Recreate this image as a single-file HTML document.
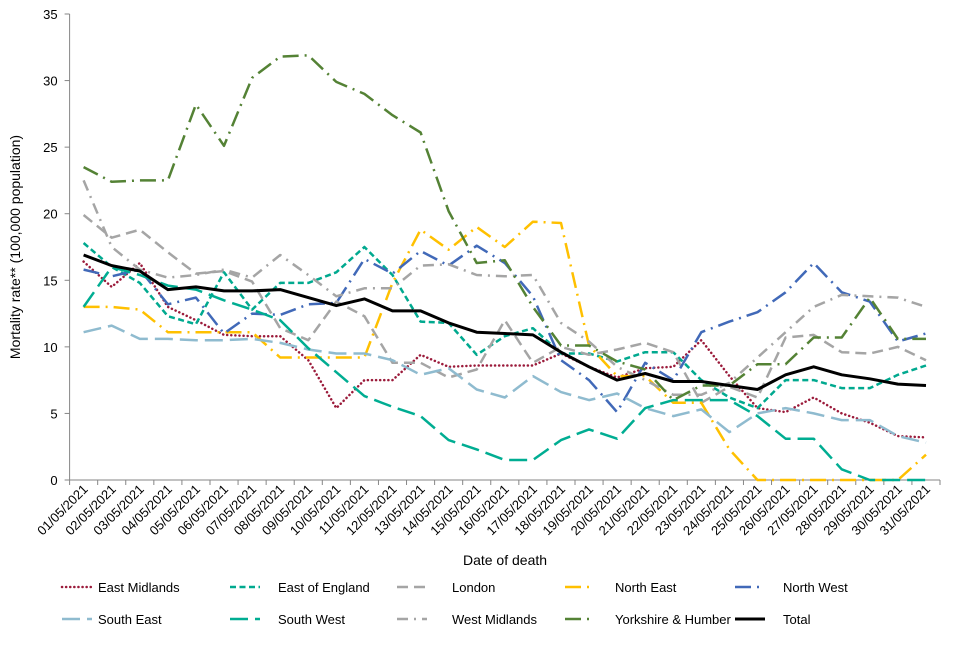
<!DOCTYPE html>
<html><head><meta charset="utf-8"><style>
body{margin:0;background:#fff;font-family:"Liberation Sans",Arial,sans-serif}
svg text{font-family:"Liberation Sans",Arial,sans-serif;fill:#000}
</style></head><body>
<svg id="chart" width="960" height="640" viewBox="0 0 960 640" xmlns="http://www.w3.org/2000/svg">
<g id="axes"></g>
<g id="series"></g>
<g id="legend"></g>
<text x="505" y="565" font-size="14" text-anchor="middle">Date of death</text>
<text transform="translate(20,247) rotate(-90)" font-size="14" text-anchor="middle">Mortality rate** (100,000 population)</text>
</svg>
<script>
const categories = ["01/05/2021","02/05/2021","03/05/2021","04/05/2021","05/05/2021","06/05/2021","07/05/2021","08/05/2021","09/05/2021","10/05/2021","11/05/2021","12/05/2021","13/05/2021","14/05/2021","15/05/2021","16/05/2021","17/05/2021","18/05/2021","19/05/2021","20/05/2021","21/05/2021","22/05/2021","23/05/2021","24/05/2021","25/05/2021","26/05/2021","27/05/2021","28/05/2021","29/05/2021","30/05/2021","31/05/2021"];
const yTicks = [0,5,10,15,20,25,30,35];
const eastMidlands = [16.4,14.5,16.3,13.0,12.0,10.9,10.8,10.8,9.0,5.4,7.5,7.5,9.4,8.5,8.6,8.6,8.6,9.5,8.5,7.7,8.4,8.5,10.5,7.8,5.4,5.1,6.2,5.0,4.3,3.3,3.2];
const eastOfEngland = [17.8,16.0,14.8,12.3,11.7,15.6,12.8,14.8,14.8,15.6,17.5,15.4,11.9,11.8,9.4,10.8,11.4,9.5,9.5,8.9,9.6,9.6,7.5,6.2,5.4,7.5,7.5,6.9,6.9,7.9,8.6];
const london = [19.9,18.2,18.8,17.1,15.5,15.7,14.9,11.4,10.5,13.4,12.3,8.8,8.8,7.7,8.3,12.0,8.8,10.0,9.4,9.8,10.3,9.6,5.8,7.0,6.2,10.7,10.9,9.6,9.5,10.0,9.0];
const northEast = [13.0,13.0,12.8,11.1,11.1,11.1,11.1,9.2,9.2,9.2,9.2,14.8,18.8,17.3,19.0,17.5,19.4,19.3,10.1,7.8,7.8,5.8,5.8,2.3,0,0,0,0,0,0,1.9];
const northWest = [15.8,15.3,15.8,13.2,13.7,11.0,12.5,12.4,13.2,13.3,16.6,15.5,17.2,16.1,17.6,16.3,13.8,9.0,7.5,5.1,8.8,7.5,11.1,11.9,12.6,14.1,16.3,14.1,13.4,10.4,11.0];
const southEast = [11.1,11.6,10.6,10.6,10.5,10.5,10.6,10.3,9.8,9.5,9.5,9.0,7.9,8.4,6.8,6.2,7.8,6.6,6.0,6.5,5.4,4.8,5.3,3.6,5.0,5.4,5.0,4.5,4.5,3.3,2.8];
const southWest = [13.0,16.0,15.4,14.6,14.3,13.5,12.8,12.0,9.9,8.1,6.3,5.5,4.8,3.0,2.3,1.5,1.5,3.0,3.8,3.1,5.4,6.0,6.0,6.0,4.8,3.1,3.1,0.8,0,0,0];
const westMidlands = [22.5,17.5,15.8,15.2,15.4,15.8,15.2,16.9,15.4,13.8,14.4,14.4,16.1,16.2,15.4,15.3,15.4,11.8,10.4,8.5,7.5,6.4,6.4,7.3,9.2,11.1,13.0,13.9,13.8,13.7,13.0];
const yorkshire = [23.5,22.4,22.5,22.5,28.2,25.1,30.2,31.8,31.9,29.9,29.0,27.4,26.1,20.2,16.3,16.5,13.0,10.1,10.1,8.9,8.3,6.0,7.1,7.1,8.7,8.7,10.7,10.7,13.7,10.6,10.6];
const total = [16.9,16.1,15.7,14.3,14.5,14.2,14.2,14.3,13.7,13.1,13.6,12.7,12.7,11.8,11.1,11.0,10.9,9.6,8.5,7.5,8.0,7.4,7.4,7.1,6.8,7.9,8.5,7.9,7.6,7.2,7.1];
const seriesNames = ["East Midlands","East of England","London","North East","North West","South East","South West","West Midlands","Yorkshire & Humber","Total"];

const NS="http://www.w3.org/2000/svg";
const plotL=69.6, plotR=940, y0=480, yTop=14, yMax=35;
const step=(plotR-plotL)/categories.length;
function xScale(i){return plotL+step*(i+0.5);}
function yScale(v){return y0-(y0-yTop)*v/yMax;}
function mk(tag,attrs,parent){const e=document.createElementNS(NS,tag);for(const k in attrs)e.setAttribute(k,attrs[k]);parent.appendChild(e);return e;}

const axes=document.getElementById('axes');
let a=mk('line',{x1:plotL,y1:yTop,x2:plotL,y2:y0,stroke:'#868686','stroke-width':1},axes);


a=mk('line',{x1:plotL,y1:y0,x2:plotR,y2:y0,stroke:'#868686','stroke-width':1},axes);


yTicks.forEach(t=>{
  const tk=mk('line',{x1:plotL-5,y1:yScale(t),x2:plotL,y2:yScale(t),stroke:'#868686'},axes);
  
  
  const lb=mk('text',{x:plotL-12,y:yScale(t)+5,'font-size':13,'text-anchor':'end'},axes);
  lb.textContent=t;
  
  
});
for(let i=0;i<=categories.length;i++){
  const tk=mk('line',{x1:plotL+step*i,y1:y0,x2:plotL+step*i,y2:y0+5,stroke:'#868686'},axes);
  
  
}
categories.forEach((c,i)=>{
  const x=xScale(i)+5,y=y0+10;
  const lb=mk('text',{x:x,y:y,'font-size':13,'text-anchor':'end',transform:`rotate(-45 ${x} ${y})`},axes);
  lb.textContent=c;
  
  
});

const styles=[
 {d:eastMidlands,c:'#9b1b3b',w:2.5,da:'0.1 4',cap:'round'},
 {d:eastOfEngland,c:'#00a98f',w:2.5,da:'6 3.5',cap:'butt'},
 {d:london,c:'#a5a5a5',w:2.5,da:'11 6',cap:'butt'},
 {d:northEast,c:'#ffc000',w:2.5,da:'16 6 2 6',cap:'butt'},
 {d:northWest,c:'#4169b8',w:2.5,da:'16 6 2 6',cap:'butt'},
 {d:southEast,c:'#8fbbcf',w:2.5,da:'18 7',cap:'butt'},
 {d:southWest,c:'#00ad92',w:2.5,da:'18 7',cap:'butt'},
 {d:westMidlands,c:'#a5a5a5',w:2.5,da:'11 6 2 6',cap:'butt'},
 {d:yorkshire,c:'#548235',w:2.5,da:'16 6 2 6',cap:'butt'},
 {d:total,c:'#000',w:3,da:'none',cap:'butt'}
];
const sg=document.getElementById('series');
styles.forEach((s,k)=>{
  const pts=s.d.map((v,i)=>xScale(i).toFixed(1)+','+yScale(v).toFixed(1)).join(' ');
  const p=mk('polyline',{points:pts,fill:'none',stroke:s.c,'stroke-width':s.w,'stroke-dasharray':s.da,'stroke-linecap':s.cap,'stroke-linejoin':'round'},sg);
  
  
});

const lg=document.getElementById('legend');
const colX=[62,230,397,565,735], txtX=[98,278,452,615,783];
styles.forEach((s,k)=>{
  const r=Math.floor(k/5),c=k%5,y=587+r*32;
  const g=mk('g',{},lg);
  
  
  mk('line',{x1:colX[c],y1:y,x2:colX[c]+30,y2:y,stroke:s.c,'stroke-width':s.w,'stroke-dasharray':s.da,'stroke-linecap':s.cap},g);
  const t=mk('text',{x:txtX[c],y:y+5,'font-size':13},g);
  t.textContent=seriesNames[k];
});
</script>
</body></html>
